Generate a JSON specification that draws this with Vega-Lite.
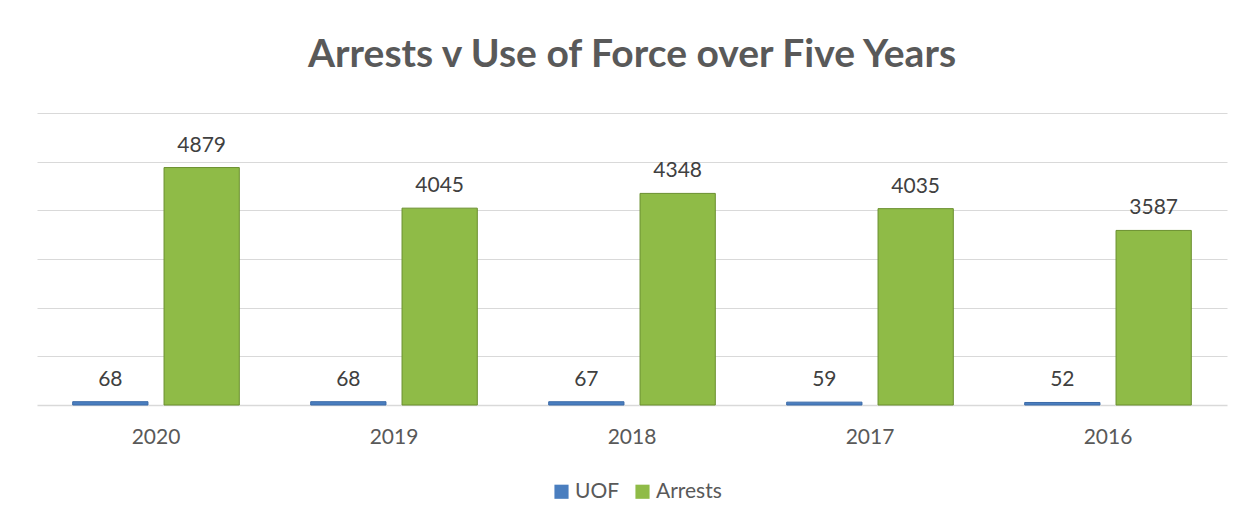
{
  "$schema": "https://vega.github.io/schema/vega-lite/v6.json",
  "width": 1190,
  "height": 292,
  "autosize": {"type": "none"},
  "padding": {"left": 37, "top": 113, "right": 28, "bottom": 120},
  "background": "#ffffff",
  "config": {"view": {"stroke": null}},
  "title": {
    "text": "Arrests v Use of Force over Five Years",
    "font": "Lato",
    "fontSize": 39,
    "fontWeight": "bold",
    "color": "#595959",
    "anchor": "middle",
    "offset": 38
  },
  "data": {
    "values": [
      {"year": "2020", "series": "UOF", "value": 68},
      {"year": "2020", "series": "Arrests", "value": 4879},
      {"year": "2019", "series": "UOF", "value": 68},
      {"year": "2019", "series": "Arrests", "value": 4045},
      {"year": "2018", "series": "UOF", "value": 67},
      {"year": "2018", "series": "Arrests", "value": 4348},
      {"year": "2017", "series": "UOF", "value": 59},
      {"year": "2017", "series": "Arrests", "value": 4035},
      {"year": "2016", "series": "UOF", "value": 52},
      {"year": "2016", "series": "Arrests", "value": 3587}
    ]
  },
  "encoding": {
    "x": {
      "field": "year",
      "type": "nominal",
      "sort": ["2020", "2019", "2018", "2017", "2016"],
      "scale": {"paddingInner": 0.3, "paddingOuter": 0.15},
      "axis": {
        "title": null,
        "labelAngle": 0,
        "labelFont": "Lato",
        "labelFontSize": 21,
        "labelColor": "#595959",
        "labelPadding": 21,
        "ticks": false,
        "domainColor": "#d9d9d9",
        "domainWidth": 1.5
      }
    },
    "xOffset": {
      "field": "series",
      "sort": ["UOF", "Arrests"],
      "scale": {"paddingInner": 0.176, "paddingOuter": 0}
    },
    "y": {
      "field": "value",
      "type": "quantitative",
      "scale": {"domain": [0, 6000]},
      "axis": {
        "title": null,
        "labels": false,
        "ticks": false,
        "domain": false,
        "values": [1000, 2000, 3000, 4000, 5000, 6000],
        "gridColor": "#d9d9d9",
        "gridWidth": 1
      }
    }
  },
  "layer": [
    {
      "mark": {"type": "bar", "strokeWidth": 1},
      "encoding": {
        "color": {
          "field": "series",
          "type": "nominal",
          "sort": ["UOF", "Arrests"],
          "scale": {"domain": ["UOF", "Arrests"], "range": ["#4a7ebf", "#8fbb47"]},
          "legend": {
            "title": null,
            "orient": "none",
            "direction": "horizontal",
            "legendX": 514,
            "legendY": 368,
            "symbolType": "square",
            "symbolSize": 200,
            "symbolStrokeWidth": 0,
            "labelFont": "Lato",
            "labelFontSize": 21,
            "labelColor": "#595959",
            "columnPadding": 12,
            "labelOffset": 3
          }
        },
        "stroke": {
          "field": "series",
          "type": "nominal",
          "scale": {"domain": ["UOF", "Arrests"], "range": ["#3a6aa8", "#6a8f2e"]},
          "legend": null
        }
      }
    },
    {
      "mark": {
        "type": "text",
        "baseline": "alphabetic",
        "dy": -16,
        "font": "Lato",
        "fontSize": 21,
        "color": "#404040"
      },
      "encoding": {
        "text": {"field": "value", "type": "quantitative", "format": "d"}
      }
    }
  ]
}
